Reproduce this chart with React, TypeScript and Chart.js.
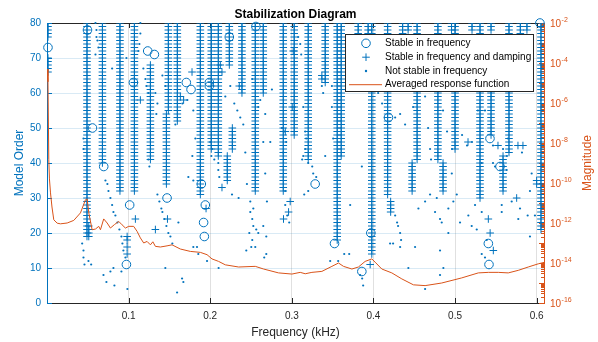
import React, { useEffect, useRef } from 'react';
import { Chart, registerables } from 'chart.js';

Chart.register(...registerables);

const BLUE = '#0072BD';
const ORANGE = '#D95319';
const DARK = '#262626';
const FONT = '"Liberation Sans", Arial, Helvetica, sans-serif';

const chartTitle = 'Stabilization Diagram';
const xTitle = 'Frequency (kHz)';
const yTitle = 'Model Order';
const y1Title = 'Magnitude';
const legendLabels = [
  'Stable in frequency',
  'Stable in frequency and damping',
  'Not stable in frequency',
  'Averaged response function',
];

const xTicks = [0.1, 0.2, 0.3, 0.4, 0.5, 0.6];
const xTickLabels = ['0.1', '0.2', '0.3', '0.4', '0.5', '0.6'];
const orderTicks = [0, 10, 20, 30, 40, 50, 60, 70, 80];
const magExponents = [-2, -4, -6, -8, -10, -12, -14, -16];

// stable (frequency and damping) columns: [frequency kHz, first model order, last model order]
const stableColumns: [number, number, number][] = [
  [0.0012, 66, 70], [0.0012, 76, 80],
  [0.049, 19, 80], [0.0512, 19, 22],
  [0.0679, 40, 80],
  [0.0894, 32, 80],
  [0.1071, 32, 80],
  [0.1267, 41, 68],
  [0.1487, 55, 80], [0.1463, 34, 54],
  [0.1597, 52, 80],
  [0.1879, 31, 80],
  [0.2013, 44, 80],
  [0.2099, 42, 80],
  [0.2234, 68, 80], [0.2209, 35, 42], [0.2271, 44, 50],
  [0.2389, 60, 80],
  [0.2552, 32, 80],
  [0.265, 60, 80],
  [0.2895, 32, 80],
  [0.3029, 48, 80],
  [0.3201, 41, 80],
  [0.3409, 63, 80],
  [0.3556, 18, 80],
  [0.3605, 42, 80],
  [0.3813, 74, 80],
  [0.3935, 74, 80],
  [0.398, 14, 80],
  [0.4174, 31, 80],
  [0.4211, 26, 29],
  [0.4358, 77, 80], [0.4425, 78, 80],
  [0.4474, 32, 40], [0.4535, 41, 80],
  [0.479, 41, 80], [0.4853, 32, 40],
  [0.4957, 78, 80],
  [0.5, 44, 80],
  [0.5208, 78, 80],
  [0.5306, 30, 80],
  [0.5441, 48, 62], [0.5441, 78, 80],
  [0.5588, 32, 42], [0.5661, 43, 80],
  [0.58, 72, 80], [0.5881, 78, 80],
  [0.6053, 21, 80],
];

// isolated stable (frequency and damping) poles: [frequency kHz, model order]
const stableSingles: [number, number][] = [
  [0.0982, 19], [0.0982, 18], [0.0982, 16], [0.0982, 14],
  [0.1083, 24], [0.1328, 21], [0.1476, 24], [0.1949, 27],
  [0.2144, 33], [0.298, 29], [0.296, 26], [0.2898, 24], [0.396, 11],
  [0.5408, 24], [0.543, 20], [0.5469, 15], [0.5755, 30], [0.6, 34], [0.6, 35],
  [0.5159, 46], [0.5526, 45], [0.5771, 45], [0.5832, 45],
  [0.3017, 72], [0.1777, 66], [0.1144, 58], [0.1674, 58], [0.2124, 68], [0.2144, 66],
  [0.2356, 62], [0.3005, 56], [0.292, 49], [0.3368, 65], [0.3368, 64], [0.1634, 59],
];

// stable in frequency only: [frequency kHz, model order]
const freqStable: [number, number][] = [
  [0.0012, 73], [0.0496, 78], [0.0557, 50], [0.0695, 39], [0.0973, 11], [0.1013, 28],
  [0.1059, 63], [0.1234, 72], [0.1316, 71], [0.1471, 30], [0.1707, 63], [0.1765, 61],
  [0.1891, 34], [0.194, 28], [0.1919, 23], [0.1928, 19], [0.1989, 62], [0.1989, 63],
  [0.2234, 76], [0.256, 79], [0.3286, 34], [0.3523, 17], [0.3858, 9], [0.3968, 20],
  [0.4184, 53], [0.5428, 47], [0.5551, 39], [0.5408, 17], [0.5416, 11], [0.604, 80],
];

// not stable in frequency: [frequency kHz, model order]
const unstable: [number, number][] = [
  [0.0594, 80], [0.0606, 78], [0.0606, 76], [0.0618, 75], [0.063, 73], [0.0594, 71],
  [0.0798, 67], [0.0973, 70], [0.1144, 80], [0.1144, 77], [0.1132, 74], [0.112, 72],
  [0.1181, 67], [0.1206, 64], [0.1218, 62], [0.1242, 60],
  [0.1328, 60], [0.1353, 57], [0.134, 54], [0.1414, 65], [0.145, 62], [0.1573, 51],
  [0.1659, 57], [0.172, 58], [0.1793, 55], [0.1818, 47], [0.1781, 42], [0.0447, 47], [0.0447, 44],
  [0.0431, 17], [0.0447, 15], [0.0447, 13], [0.0459, 11], [0.0508, 12], [0.0541, 11],
  [0.0716, 35], [0.074, 34], [0.0753, 32], [0.0777, 30], [0.0798, 28], [0.0814, 26], [0.0838, 25],
  [0.0863, 23], [0.0887, 21], [0.0912, 19], [0.0924, 17], [0.0936, 15], [0.0961, 13],
  [0.0692, 8], [0.0728, 6], [0.0777, 9], [0.0814, 10], [0.0826, 5], [0.0912, 9], [0.0985, 4],
  [0.1242, 41], [0.1255, 39],
  [0.1353, 31], [0.1377, 29], [0.1401, 27], [0.1414, 26], [0.1438, 24], [0.1463, 22], [0.1487, 20],
  [0.1512, 19], [0.1536, 17],
  [0.145, 10], [0.1594, 3], [0.1655, 7], [0.1671, 6], [0.1732, 36], [0.1793, 35],
  [0.1838, 16], [0.1854, 14], [0.1961, 12], [0.1793, 16], [0.161, 23],
  [0.2099, 40], [0.2099, 38], [0.2111, 36], [0.2103, 10],
  [0.2267, 31], [0.2348, 30], [0.245, 34], [0.2674, 37], [0.2695, 29],
  [0.2491, 29], [0.2528, 27], [0.2491, 26], [0.2515, 24], [0.2528, 22], [0.2479, 20], [0.2564, 21],
  [0.265, 22], [0.2589, 20], [0.2515, 18], [0.2503, 16], [0.2552, 16], [0.2442, 15], [0.2687, 19],
  [0.2662, 13], [0.2687, 14],
  [0.2919, 32], [0.2919, 28], [0.2944, 25], [0.2968, 23],
  [0.3127, 41], [0.3201, 40], [0.325, 39], [0.3262, 37], [0.3299, 36], [0.3201, 32], [0.3152, 31],
  [0.347, 12], [0.3568, 12], [0.3642, 14], [0.3703, 14], [0.3715, 28],
  [0.3862, 7], [0.3874, 5], [0.3837, 8], [0.3858, 39],
  [0.4266, 25], [0.429, 23], [0.4302, 22], [0.4327, 20], [0.4339, 18], [0.4327, 16], [0.4241, 17], [0.4204, 17],
  [0.451, 16], [0.4428, 10], [0.4633, 4],
  [0.4551, 27], [0.4633, 29], [0.4694, 31], [0.4755, 26], [0.4776, 30], [0.4816, 24], [0.4837, 23],
  [0.4918, 27], [0.4918, 20], [0.496, 37], [0.4979, 29], [0.4816, 15], [0.4857, 10], [0.4816, 8],
  [0.5021, 31], [0.5061, 23], [0.5163, 25], [0.5204, 22], [0.5245, 28], [0.5266, 21], [0.5327, 26],
  [0.5327, 14], [0.5367, 13], [0.5388, 18], [0.5327, 40], [0.5465, 40], [0.549, 39], [0.5633, 38],
  [0.5572, 28], [0.5572, 26], [0.5694, 29], [0.5775, 24], [0.5796, 27], [0.589, 25], [0.5918, 19],
  [0.5939, 37], [0.5979, 25], [0.5918, 32],
  [0.4058, 60], [0.4106, 57], [0.4266, 53], [0.4327, 54], [0.4388, 51], [0.4486, 56], [0.4633, 59],
  [0.467, 50], [0.4694, 44], [0.4706, 41], [0.4853, 55], [0.4902, 49], [0.4963, 44], [0.5086, 48],
  [0.5147, 45], [0.5208, 46], [0.528, 55], [0.5367, 55], [0.5465, 45], [0.5588, 44], [0.5649, 47],
  [0.582, 43], [0.5636, 42],
  [0.2001, 46], [0.2026, 44], [0.2014, 42], [0.205, 41], [0.2185, 59], [0.2246, 62], [0.2295, 57],
  [0.2332, 55], [0.2368, 53], [0.2405, 51], [0.243, 43], [0.2515, 64], [0.2589, 56], [0.2613, 58],
  [0.2674, 54], [0.265, 46], [0.2736, 46], [0.2756, 61], [0.2879, 50], [0.2907, 49], [0.2931, 46],
  [0.2895, 43], [0.3078, 76], [0.3103, 74], [0.3115, 71], [0.314, 56], [0.3164, 49], [0.3176, 47],
  [0.3164, 44], [0.314, 42], [0.3368, 62], [0.3384, 60], [0.3491, 62], [0.3491, 56], [0.3507, 47],
  [0.3409, 42],
];

// averaged response function: [frequency kHz, magnitude]
const responseCurve: [number, number][] = [
  [0.0004, 5.0e-5], [0.0012, 1.15e-5], [0.0022, 1.45e-9], [0.003, 1.6e-10], [0.0043, 3.2e-11],
  [0.0061, 6.3e-12], [0.0083, 1.45e-12], [0.0125, 9.8e-13], [0.0165, 9.1e-13], [0.0247, 1.0e-12],
  [0.0328, 1.35e-12], [0.041, 3.2e-12], [0.0471, 1.45e-11], [0.0492, 1.6e-11], [0.0512, 3.2e-12],
  [0.0553, 4.6e-13], [0.0594, 5.0e-13], [0.0634, 6.8e-13], [0.0655, 4.6e-13], [0.0695, 1.6e-12],
  [0.0737, 1.0e-12], [0.0777, 5.6e-13], [0.0826, 8.3e-13], [0.0879, 1.2e-12], [0.092, 8.1e-13],
  [0.0961, 5.6e-13], [0.1001, 6.8e-13], [0.1062, 6.8e-13], [0.1104, 3.8e-13], [0.1144, 1.8e-13],
  [0.1185, 1.0e-13], [0.1226, 1.2e-13], [0.1267, 8.1e-14], [0.1297, 1.15e-13], [0.1328, 6.8e-14],
  [0.1389, 6.3e-14], [0.1471, 7.2e-14], [0.1532, 8.1e-14], [0.1634, 5.0e-14], [0.1756, 3.8e-14],
  [0.1879, 3.4e-14], [0.1961, 2.6e-14], [0.2022, 1.6e-14], [0.2103, 1.2e-14], [0.2185, 8.1e-15],
  [0.2348, 6.3e-15], [0.2552, 6.8e-15], [0.2654, 5.0e-15], [0.2837, 3.2e-15], [0.3001, 2.8e-15],
  [0.3103, 3.4e-15], [0.3164, 2.9e-15], [0.3246, 3.4e-15], [0.3368, 3.8e-15], [0.3491, 6.8e-15],
  [0.3572, 1.0e-14], [0.3633, 6.8e-15], [0.3736, 5.0e-15], [0.3816, 6.3e-15], [0.3898, 1.2e-14],
  [0.398, 1.6e-14], [0.4021, 1.1e-14], [0.4103, 5.0e-15], [0.4225, 3.2e-15], [0.4348, 1.6e-15],
  [0.449, 8.1e-16], [0.4633, 7.4e-16], [0.4837, 1.0e-15], [0.5082, 1.8e-15], [0.5285, 3.2e-15],
  [0.5408, 3.4e-15], [0.553, 3.4e-15], [0.5652, 3.2e-15], [0.5775, 4.3e-15], [0.5897, 6.3e-15],
  [0.602, 9.1e-15], [0.609, 1.07e-14],
];

const X_MAX = 0.609;

function buildStable() {
  const pts: { x: number; y: number }[] = [];
  for (const [f, a, b] of stableColumns) {
    for (let o = a; o <= b; o++) pts.push({ x: f, y: o });
  }
  for (const [f, o] of stableSingles) pts.push({ x: f, y: o });
  return pts;
}

const decorPlugin = {
  id: 'decor',
  beforeDatasetsDraw(chart: any) {
    const { ctx, chartArea } = chart;
    const { left, right, top, bottom } = chartArea;
    const sx = chart.scales.x;
    const sy = chart.scales.y;
    const sy1 = chart.scales.y1;
    ctx.save();
    ctx.lineWidth = 1;
    // top box line
    ctx.strokeStyle = DARK;
    ctx.beginPath();
    ctx.moveTo(left, top + 0.5);
    ctx.lineTo(right, top + 0.5);
    ctx.stroke();
    // x ticks (inward, bottom and top)
    ctx.beginPath();
    for (const v of xTicks) {
      const px = Math.round(sx.getPixelForValue(v)) + 0.5;
      ctx.moveTo(px, bottom);
      ctx.lineTo(px, bottom - 5);
      ctx.moveTo(px, top);
      ctx.lineTo(px, top + 5);
    }
    ctx.stroke();
    // left ticks
    ctx.strokeStyle = BLUE;
    ctx.beginPath();
    for (const v of orderTicks) {
      const py = Math.round(sy.getPixelForValue(v)) + 0.5;
      ctx.moveTo(left, py);
      ctx.lineTo(left + 5, py);
    }
    ctx.stroke();
    // right log ticks
    ctx.strokeStyle = ORANGE;
    ctx.beginPath();
    for (let e = -16; e <= -2; e++) {
      const py = Math.round(sy1.getPixelForValue(Math.pow(10, e))) + 0.5;
      ctx.moveTo(right, py);
      ctx.lineTo(right - 5, py);
      if (e < -2) {
        for (let k = 2; k <= 9; k++) {
          const pm = Math.round(sy1.getPixelForValue(k * Math.pow(10, e))) + 0.5;
          ctx.moveTo(right, pm);
          ctx.lineTo(right - 3, pm);
        }
      }
    }
    ctx.stroke();
    ctx.restore();
  },
  afterDraw(chart: any) {
    const { ctx, chartArea } = chart;
    const { left, right, top, bottom } = chartArea;
    const sy1 = chart.scales.y1;
    ctx.save();
    // title
    ctx.fillStyle = '#000';
    ctx.font = `bold 12px ${FONT}`;
    ctx.textAlign = 'center';
    ctx.textBaseline = 'alphabetic';
    ctx.fillText(chartTitle, (left + right) / 2, 17.5);
    // right axis labels 10^e
    ctx.fillStyle = ORANGE;
    ctx.textAlign = 'left';
    for (const e of magExponents) {
      const py = sy1.getPixelForValue(Math.pow(10, e));
      ctx.font = `10px ${FONT}`;
      ctx.fillText('10', right + 6, py + 4);
      const w = ctx.measureText('10').width;
      ctx.font = `7px ${FONT}`;
      ctx.fillText(String(e), right + 6 + w + 0.5, py - 1);
    }
    // right axis title
    ctx.font = `12px ${FONT}`;
    ctx.textAlign = 'center';
    ctx.textBaseline = 'middle';
    ctx.translate(587.5, (top + bottom) / 2);
    ctx.rotate(-Math.PI / 2);
    ctx.fillText(y1Title, 0, 0);
    ctx.restore();

    // legend
    ctx.save();
    const lx = 345.5, ly = 34.5, lw = 188, lh = 57;
    ctx.fillStyle = '#fff';
    ctx.fillRect(lx, ly, lw, lh);
    ctx.strokeStyle = DARK;
    ctx.lineWidth = 1;
    ctx.strokeRect(lx, ly, lw, lh);
    const rows = [43.3, 57.2, 71, 84.7];
    const ix = 366;
    ctx.strokeStyle = BLUE;
    ctx.fillStyle = BLUE;
    ctx.beginPath();
    ctx.arc(ix, rows[0], 4.3, 0, Math.PI * 2);
    ctx.stroke();
    ctx.beginPath();
    ctx.moveTo(ix - 3.8, rows[1]);
    ctx.lineTo(ix + 3.8, rows[1]);
    ctx.moveTo(ix, rows[1] - 3.8);
    ctx.lineTo(ix, rows[1] + 3.8);
    ctx.stroke();
    ctx.beginPath();
    ctx.arc(ix, rows[2], 1.2, 0, Math.PI * 2);
    ctx.fill();
    ctx.strokeStyle = ORANGE;
    ctx.beginPath();
    ctx.moveTo(349, rows[3]);
    ctx.lineTo(382, rows[3]);
    ctx.stroke();
    ctx.fillStyle = '#000';
    ctx.font = `10px ${FONT}`;
    ctx.textAlign = 'left';
    ctx.textBaseline = 'middle';
    legendLabels.forEach((t, i) => ctx.fillText(t, 385, rows[i]));
    ctx.restore();
  },
};

export default function App() {
  const ref = useRef<HTMLCanvasElement>(null);
  useEffect(() => {
    document.body.style.margin = '0';
    Chart.defaults.font.family = FONT;
    const chart = new Chart(ref.current as HTMLCanvasElement, {
      type: 'scatter',
      data: {
        datasets: [
          {
            type: 'line',
            label: legendLabels[3],
            data: responseCurve.map(([f, m]) => ({ x: f, y: m })),
            borderColor: ORANGE,
            borderWidth: 1,
            pointRadius: 0,
            tension: 0,
            fill: false,
            xAxisID: 'x',
            yAxisID: 'y1',
            order: 0,
          } as any,
          {
            label: legendLabels[0],
            data: freqStable.map(([f, o]) => ({ x: f, y: o })),
            pointStyle: 'circle',
            pointRadius: 4.3,
            borderColor: BLUE,
            backgroundColor: 'rgba(0,0,0,0)',
            borderWidth: 1,
            pointBorderWidth: 1,
            xAxisID: 'x',
            yAxisID: 'y',
            clip: false,
            order: 1,
          } as any,
          {
            label: legendLabels[1],
            data: buildStable(),
            pointStyle: 'cross',
            pointRadius: 3.8,
            borderColor: BLUE,
            backgroundColor: BLUE,
            borderWidth: 1,
            pointBorderWidth: 1,
            xAxisID: 'x',
            yAxisID: 'y',
            clip: 0,
            order: 2,
          } as any,
          {
            label: legendLabels[2],
            data: unstable.map(([f, o]) => ({ x: f, y: o })),
            pointStyle: 'circle',
            pointRadius: 1.1,
            borderWidth: 0,
            pointBorderWidth: 0,
            backgroundColor: BLUE,
            borderColor: BLUE,
            xAxisID: 'x',
            yAxisID: 'y',
            clip: false,
            order: 3,
          } as any,
        ],
      },
      options: {
        responsive: false,
        animation: false,
        devicePixelRatio: 1,
        layout: { padding: { top: 23, left: 0, right: 0, bottom: 0 } },
        plugins: {
          legend: { display: false },
          tooltip: { enabled: false },
          title: { display: false },
        },
        scales: {
          x: {
            type: 'linear',
            min: 0,
            max: X_MAX,
            afterBuildTicks: (s: any) => {
              s.ticks = xTicks.map((v) => ({ value: v }));
            },
            afterFit: (s: any) => {
              s.height = 39;
            },
            ticks: {
              color: DARK,
              font: { size: 10 },
              padding: 7,
              maxRotation: 0,
              autoSkip: false,
              callback: (_v: any, i: number) => xTickLabels[i],
            },
            grid: { color: 'rgba(38,38,38,0.14)', drawTicks: false },
            border: { color: DARK, width: 1 },
            title: {
              display: true,
              text: xTitle,
              color: DARK,
              font: { size: 12 },
              padding: { top: 0, bottom: 2 },
            },
          },
          y: {
            type: 'linear',
            position: 'left',
            min: 0,
            max: 80,
            afterBuildTicks: (s: any) => {
              s.ticks = orderTicks.map((v) => ({ value: v }));
            },
            afterFit: (s: any) => {
              s.width = 47;
            },
            ticks: {
              color: BLUE,
              font: { size: 10 },
              padding: 6,
              callback: (v: any) => String(v),
            },
            grid: { color: 'rgba(0,114,189,0.15)', drawTicks: false },
            border: { color: BLUE, width: 1 },
            title: {
              display: true,
              text: yTitle,
              color: BLUE,
              font: { size: 12 },
              padding: { top: 12, bottom: 0 },
            },
          },
          y1: {
            type: 'logarithmic',
            position: 'right',
            min: 1e-16,
            max: 1e-2,
            afterFit: (s: any) => {
              s.width = 54;
            },
            ticks: { display: false },
            grid: { display: false, drawTicks: false },
            border: { color: ORANGE, width: 1 },
          },
        },
      } as any,
      plugins: [decorPlugin],
    });
    return () => chart.destroy();
  }, []);
  return (
    <div style={{ width: 598, height: 342 }}>
      <canvas ref={ref} width={598} height={342} style={{ display: 'block' }} />
    </div>
  );
}
